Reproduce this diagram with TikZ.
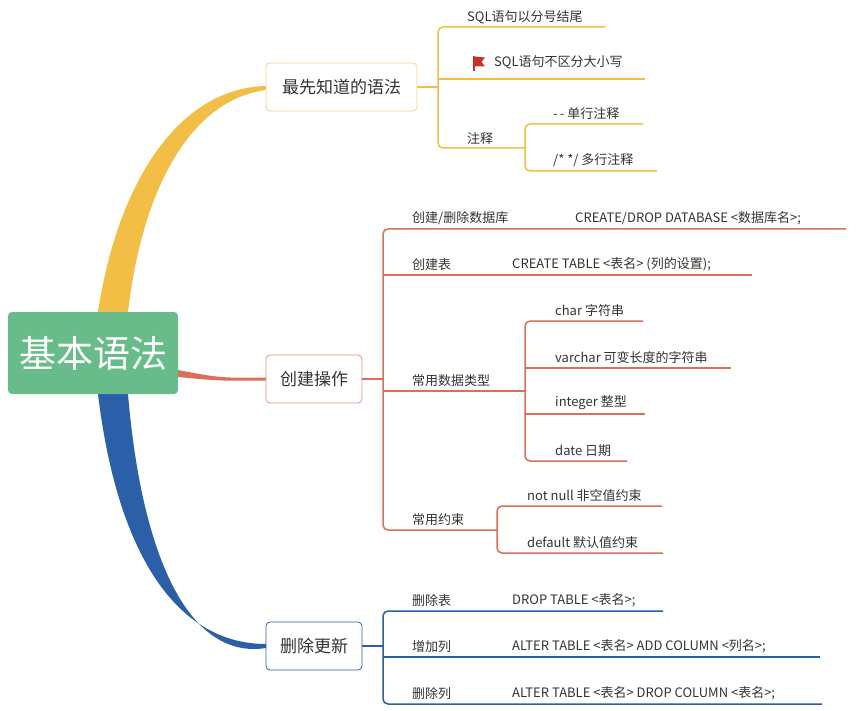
\documentclass[tikz,border=0pt]{standalone}
\usepackage{fontspec}
\setmainfont{Noto Sans CJK SC}
\definecolor{yel}{HTML}{F2BE45}
\definecolor{yelb}{HTML}{F3D38A}
\definecolor{red}{HTML}{D9705A}
\definecolor{redb}{HTML}{E0907F}
\definecolor{blu}{HTML}{2B5FA8}
\definecolor{grn}{HTML}{67BC8A}
\definecolor{txt}{HTML}{333333}
\definecolor{flag}{HTML}{C8312B}
\begin{document}
\begin{tikzpicture}[x=1pt,y=-1pt,
  lbl/.style={anchor=south west,inner sep=0pt,font=\fontsize{13}{13}\selectfont,text=txt},
  box/.style={draw,rounded corners=4pt,fill=white,line width=0.8pt,font=\fontsize{17}{17}\selectfont,text=txt,inner sep=0pt},
  yl/.style={yel,line width=1.5pt,rounded corners=5pt},
  rl/.style={red,line width=1.5pt,rounded corners=5pt},
  bl/.style={blu,line width=1.5pt,rounded corners=5pt}]
\useasboundingbox (0,0) rectangle (856,711);
% tapered connectors
\fill[yel] (98,312) .. controls (118,180) and (180,88) .. (266,86) -- (266,90) .. controls (190,100) and (142,190) .. (128,312) -- cycle;
\fill[blu] (98,394) .. controls (118,560) and (180,644) .. (266,644) -- (266,648) .. controls (190,660) and (142,560) .. (128,394) -- cycle;
\fill[red] (178,370) .. controls (220,378) .. (266,377.5) -- (266,380.5) .. controls (220,381) .. (178,377) -- cycle;
% root
\node[fill=grn,rounded corners=4pt,minimum width=170pt,minimum height=82pt,text=white,font=\fontsize{37}{37}\selectfont,inner sep=0pt] (root) at (93,353) {基本语法};
% box1
\node[box,draw=yelb,minimum width=151pt,minimum height=48pt] (b1) at (341.5,87) {最先知道的语法};
\coordinate (b1j) at (438,87);
\draw[yel,line width=2pt] (b1.east) -- (b1j);
\draw[yl] (605,27) -- (438,27) -- (438,148) -- (525,148);
\draw[yl] (438,79) -- (645,79);
\node[lbl] (t11) at (467,24) {SQL语句以分号结尾};
\fill[flag] (473,56) rectangle (474.8,71);
\fill[flag] (474.8,56.5) -- (485,57.5) -- (481.5,62) -- (485,66.5) -- (474.8,66.5) -- cycle;
\node[lbl] (t12) at (494,69) {SQL语句不区分大小写};
\node[lbl] (t13) at (467,145) {注释};
\draw[yl] (643,124) -- (525,124) -- (525,171) -- (657,171);
\node[lbl] (t131) at (553,120) {-\,- 单行注释};
\node[lbl] (t132) at (553,167) {/* */ 多行注释};
% box2
\node[box,draw=redb,minimum width=96pt,minimum height=48pt] (b2) at (314,379) {创建操作};
\draw[red,line width=2pt] (b2.east) -- (383,379);
\draw[rl] (846,229) -- (383,229) -- (383,530) -- (497,530);
\draw[rl] (383,275) -- (752,275);
\draw[rl] (383,391) -- (525,391);
\node[lbl] (t21) at (412,225) {创建/删除数据库};
\node[lbl] (t21a) at (575,225) {CREATE/DROP DATABASE <数据库名>;};
\node[lbl] (t22) at (412,271) {创建表};
\node[lbl] (t22a) at (512,271) {CREATE TABLE <表名> (列的设置);};
\node[lbl] (t23) at (412,387) {常用数据类型};
\draw[rl] (643,321) -- (525,321) -- (525,461) -- (627,461);
\draw[rl] (525,368) -- (731,368);
\draw[rl] (525,414) -- (645,414);
\node[lbl] (t231) at (555,317) {char 字符串};
\node[lbl] (t232) at (555,364) {varchar 可变长度的字符串};
\node[lbl] (t233) at (555,410) {integer 整型};
\node[lbl] (t234) at (555,457) {date 日期};
\node[lbl] (t24) at (412,526) {常用约束};
\draw[rl] (662,506) -- (497,506) -- (497,553) -- (663,553);
\node[lbl] (t241) at (527,502) {not null 非空值约束};
\node[lbl] (t242) at (527,549) {default 默认值约束};
% box3
\node[box,draw=blu,minimum width=96pt,minimum height=48pt] (b3) at (314,646) {删除更新};
\draw[blu,line width=2pt] (b3.east) -- (383,646);
\draw[bl] (663,611) -- (383,611) -- (383,704) -- (822,704);
\draw[bl] (383,657) -- (820,657);
\node[lbl] (t31) at (412,607) {删除表};
\node[lbl] (t31a) at (512,607) {DROP TABLE <表名>;};
\node[lbl] (t32) at (412,653) {增加列};
\node[lbl] (t32a) at (512,653) {ALTER TABLE <表名> ADD COLUMN <列名>;};
\node[lbl] (t33) at (412,700) {删除列};
\node[lbl] (t33a) at (512,700) {ALTER TABLE <表名> DROP COLUMN <表名>;};
\end{tikzpicture}
\end{document}
